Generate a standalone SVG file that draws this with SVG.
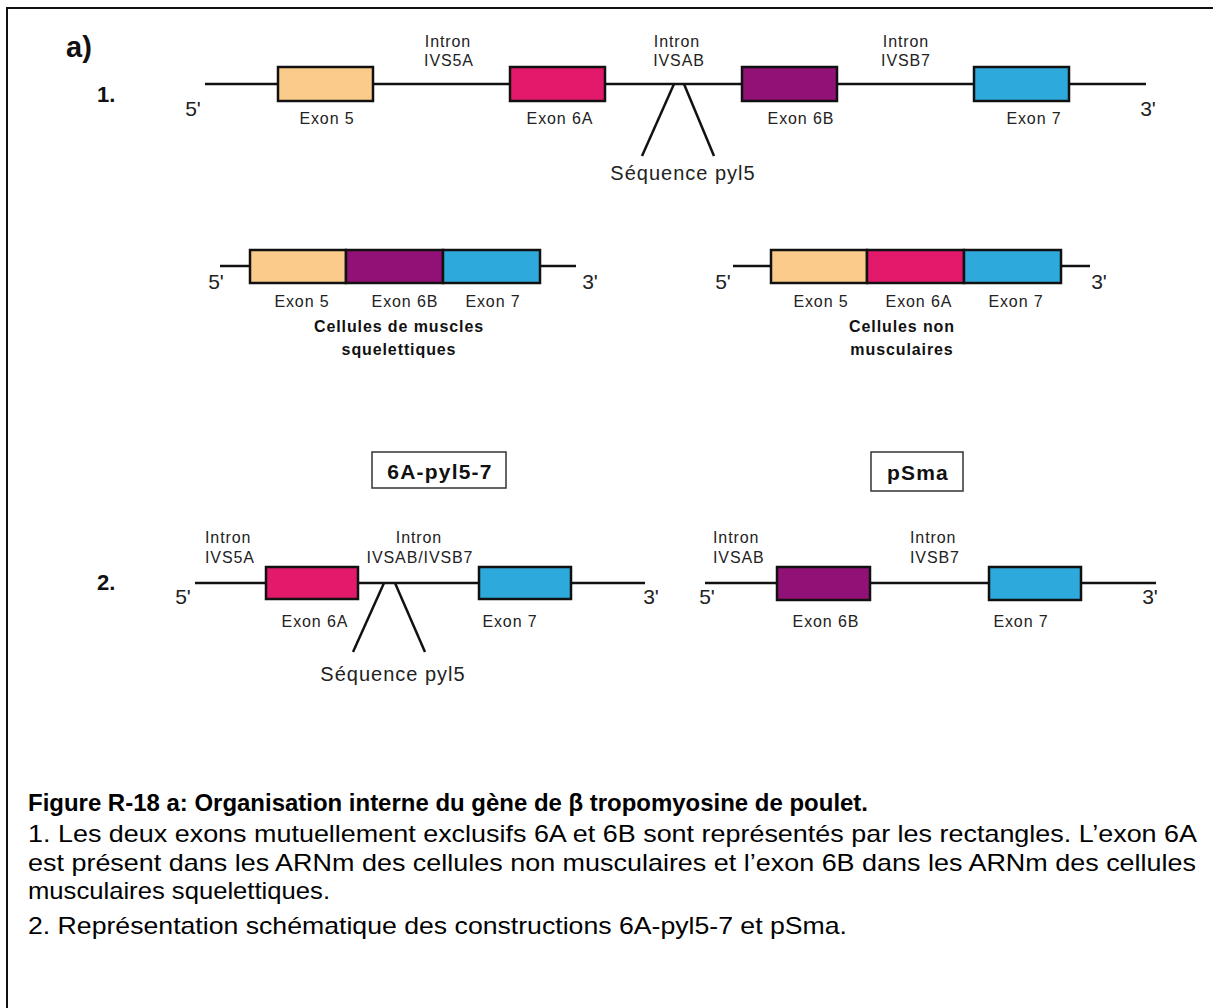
<svg xmlns="http://www.w3.org/2000/svg" width="1213" height="1008" viewBox="0 0 1213 1008">
<style>
text{font-family:"Liberation Sans",Arial,sans-serif;fill:#222}
.s{font-size:16px;letter-spacing:0.9px}
.m{font-size:21px}
.b{font-weight:bold;fill:#111}
.c{text-anchor:middle}
.ln{stroke:#111;stroke-width:2.5;fill:none}
.ex{stroke:#111;stroke-width:2.5}
.e5{fill:#FBCB8B}.e6a{fill:#E3196B}.e6b{fill:#921176}.e7{fill:#2EA9DC}
.cap{font-size:24px;fill:#000}
.py{font-size:20px;letter-spacing:1px}
.bx{font-size:21px;letter-spacing:1.2px}
</style>
<rect x="7" y="8" width="1220" height="1010" fill="#fff" stroke="#111" stroke-width="2"/>
<text x="66" y="57" class="b" font-size="29">a)</text>
<text x="97" y="102" class="b" font-size="22">1.</text>
<text x="97" y="590" class="b" font-size="22">2.</text>

<g id="connectors">
<line class="ln" x1="205" y1="84" x2="1146" y2="84"/>
<line class="ln" x1="674" y1="84" x2="642" y2="156"/>
<line class="ln" x1="684" y1="84" x2="714" y2="156"/>
<line class="ln" x1="220" y1="266" x2="576" y2="266"/>
<line class="ln" x1="733" y1="266" x2="1090" y2="266"/>
<line class="ln" x1="195" y1="583" x2="645" y2="583"/>
<line class="ln" x1="384" y1="583" x2="353" y2="652"/>
<line class="ln" x1="395" y1="583" x2="425" y2="652"/>
<line class="ln" x1="705" y1="583" x2="1156" y2="583"/>
</g>

<g id="gene1">
<text x="193" y="116" class="m c">5'</text>
<text x="1148" y="116" class="m c">3'</text>
<rect class="ex e5" x="278" y="67" width="95" height="34"/>
<rect class="ex e6a" x="510" y="67" width="95" height="34"/>
<rect class="ex e6b" x="742" y="67" width="95" height="34"/>
<rect class="ex e7" x="974" y="67" width="95" height="34"/>
<text x="327" y="124" class="s c">Exon 5</text>
<text x="560" y="124" class="s c">Exon 6A</text>
<text x="801" y="124" class="s c">Exon 6B</text>
<text x="1034" y="124" class="s c">Exon 7</text>
<text x="448" y="47" class="s c">Intron</text>
<text x="449" y="66" class="s c">IVS5A</text>
<text x="677" y="47" class="s c">Intron</text>
<text x="679" y="66" class="s c">IVSAB</text>
<text x="906" y="47" class="s c">Intron</text>
<text x="906" y="66" class="s c">IVSB7</text>
<text x="683" y="180" class="py c">Séquence pyl5</text>
</g>

<g id="mrna-muscle">
<text x="216" y="289" class="m c">5'</text>
<text x="590" y="289" class="m c">3'</text>
<rect class="ex e5" x="250" y="250" width="96" height="33"/>
<rect class="ex e6b" x="346" y="250" width="97" height="33"/>
<rect class="ex e7" x="443" y="250" width="97" height="33"/>
<text x="302" y="307" class="s c">Exon 5</text>
<text x="405" y="307" class="s c">Exon 6B</text>
<text x="493" y="307" class="s c">Exon 7</text>
<text x="399" y="332" class="s b c">Cellules de muscles</text>
<text x="399" y="355" class="s b c">squelettiques</text>
</g>

<g id="mrna-nonmuscle">
<text x="723" y="289" class="m c">5'</text>
<text x="1099" y="289" class="m c">3'</text>
<rect class="ex e5" x="771" y="250" width="96" height="33"/>
<rect class="ex e6a" x="867" y="250" width="97" height="33"/>
<rect class="ex e7" x="964" y="250" width="97" height="33"/>
<text x="821" y="307" class="s c">Exon 5</text>
<text x="919" y="307" class="s c">Exon 6A</text>
<text x="1016" y="307" class="s c">Exon 7</text>
<text x="902" y="332" class="s b c">Cellules non</text>
<text x="902" y="355" class="s b c">musculaires</text>
</g>

<g id="construct-6A">
<rect x="372" y="452" width="134" height="36" fill="#fff" stroke="#333" stroke-width="1.5"/>
<text x="440" y="479" class="b c bx">6A-pyl5-7</text>
<text x="183" y="604" class="m c">5'</text>
<text x="651" y="604" class="m c">3'</text>
<rect class="ex e6a" x="266" y="567" width="92" height="32"/>
<rect class="ex e7" x="479" y="567" width="92" height="32"/>
<text x="205" y="543" class="s">Intron</text>
<text x="205" y="563" class="s">IVS5A</text>
<text x="419" y="543" class="s c">Intron</text>
<text x="420" y="563" class="s c">IVSAB/IVSB7</text>
<text x="315" y="627" class="s c">Exon 6A</text>
<text x="510" y="627" class="s c">Exon 7</text>
<text x="393" y="681" class="py c">Séquence pyl5</text>
</g>

<g id="construct-pSma">
<rect x="871" y="452" width="92" height="39" fill="#fff" stroke="#333" stroke-width="1.5"/>
<text x="918" y="480" class="b c bx">pSma</text>
<text x="707" y="604" class="m c">5'</text>
<text x="1150" y="604" class="m c">3'</text>
<rect class="ex e6b" x="777" y="567" width="93" height="33"/>
<rect class="ex e7" x="989" y="567" width="92" height="33"/>
<text x="713" y="543" class="s">Intron</text>
<text x="713" y="563" class="s">IVSAB</text>
<text x="910" y="543" class="s">Intron</text>
<text x="910" y="563" class="s">IVSB7</text>
<text x="826" y="627" class="s c">Exon 6B</text>
<text x="1021" y="627" class="s c">Exon 7</text>
</g>

<g id="caption">
<text x="28" y="811" class="cap" font-weight="bold" textLength="840" lengthAdjust="spacingAndGlyphs">Figure R-18 a: Organisation interne du gène de β tropomyosine de poulet.</text>
<text x="28" y="842" class="cap" textLength="1169" lengthAdjust="spacingAndGlyphs">1. Les deux exons mutuellement exclusifs 6A et 6B sont représentés par les rectangles. L’exon 6A</text>
<text x="28" y="871" class="cap" textLength="1168" lengthAdjust="spacingAndGlyphs">est présent dans les ARNm des cellules non musculaires et l’exon 6B dans les ARNm des cellules</text>
<text x="28" y="899" class="cap" textLength="302" lengthAdjust="spacingAndGlyphs">musculaires squelettiques.</text>
<text x="28" y="934" class="cap" textLength="819" lengthAdjust="spacingAndGlyphs">2. Représentation schématique des constructions 6A-pyl5-7 et pSma.</text>
</g>
</svg>
